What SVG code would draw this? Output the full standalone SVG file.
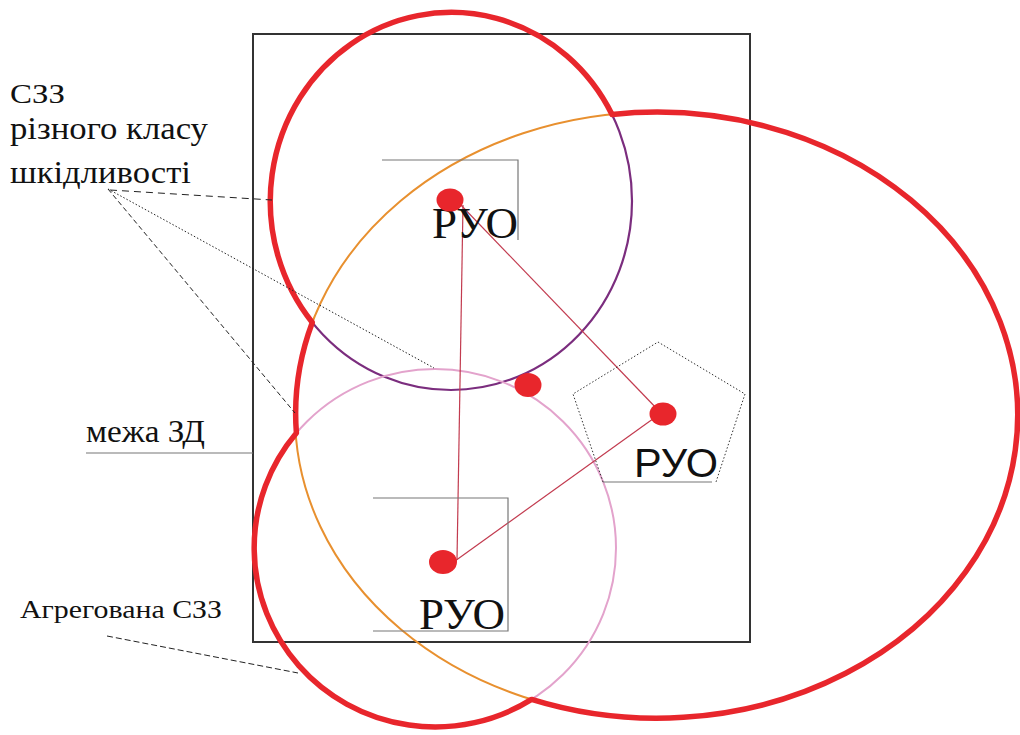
<svg xmlns="http://www.w3.org/2000/svg" width="1020" height="735" viewBox="0 0 1020 735">
<style>
.serif{font-family:"Liberation Serif","Times New Roman",serif;fill:#111}
.sans{font-family:"Liberation Sans",Arial,sans-serif;fill:#111}
.dot{fill:#e8262c}
.gray{stroke:#777;stroke-width:1.2;fill:none}
.link{stroke:#c23b4f;stroke-width:1.2;fill:none}
.lead{stroke:#222;stroke-width:1;fill:none}
</style>
<rect width="1020" height="735" fill="#fff"/>
<g id="zone-boundary">
<rect x="253" y="34" width="497" height="608" fill="none" stroke="#333" stroke-width="2"/>
</g>
<g id="szz-orange">
<ellipse cx="656" cy="415" rx="361" ry="303" fill="none" stroke="#e8902f" stroke-width="2"/>
</g>
<g id="szz-purple">
<ellipse cx="451" cy="201" rx="181" ry="189" fill="none" stroke="#7b2d7e" stroke-width="2.2"/>
</g>
<g id="szz-pink">
<ellipse cx="435" cy="548" rx="181" ry="179" fill="none" stroke="#e3a3cc" stroke-width="2"/>
</g>
<g id="aggregated-szz">
<path d="M312.3,322.5 A181,189 0 1,1 612,114.5 A361,303 0 1,1 531.6,699.4 A181,179 0 0,1 296.4,433 A361,303 0 0,1 312.3,322.5 Z" fill="none" stroke="#e8262c" stroke-width="5.5" stroke-linejoin="round"/>
</g>
<g id="connectors">
<line class="link" x1="463" y1="205" x2="457" y2="560"/>
<line class="link" x1="458" y1="202" x2="660" y2="412"/>
<line class="link" x1="657" y1="416" x2="455" y2="561"/>
<line class="lead" x1="110" y1="190" x2="272" y2="200" stroke-dasharray="7,5"/>
<line class="lead" x1="108" y1="189" x2="434" y2="368" stroke-dasharray="1.5,2"/>
<line class="lead" x1="108" y1="189" x2="295" y2="413" stroke-dasharray="5,3"/>
<line class="lead" x1="107" y1="636" x2="298" y2="673" stroke-dasharray="6,3"/>
<line class="gray" x1="86" y1="453" x2="253" y2="453"/>
</g>
<g id="ruo-top">
<polyline class="gray" points="382,160 518,160 518,240"/>
<text class="serif" x="432" y="238" font-size="44" textLength="86" lengthAdjust="spacingAndGlyphs">РУО</text>
<ellipse class="dot" cx="450" cy="200" rx="13.5" ry="11.5"/>
</g>
<g id="ruo-middle">
<ellipse class="dot" cx="528" cy="385" rx="13.5" ry="12"/>
</g>
<g id="ruo-right">
<polyline points="603,482 573,394 658,342 745,394 716,482" fill="none" stroke="#333" stroke-width="1" stroke-dasharray="1.5,2"/>
<line class="gray" x1="603" y1="482" x2="712" y2="482"/>
<text class="sans" x="634" y="477" font-size="41" textLength="84" lengthAdjust="spacingAndGlyphs">РУО</text>
<ellipse class="dot" cx="663" cy="414" rx="13.5" ry="11.5"/>
</g>
<g id="ruo-bottom">
<polyline class="gray" points="373,498 508,498 508,631 373,631"/>
<text class="serif" x="419" y="629" font-size="44" textLength="86" lengthAdjust="spacingAndGlyphs">РУО</text>
<ellipse class="dot" cx="443" cy="562" rx="14" ry="12"/>
</g>
<g id="label-szz">
<text class="serif" x="10" y="103" font-size="28" textLength="55" lengthAdjust="spacingAndGlyphs">СЗЗ</text>
<text class="serif" x="10" y="139" font-size="31" textLength="198" lengthAdjust="spacingAndGlyphs">різного класу</text>
<text class="serif" x="10" y="183" font-size="31" textLength="181" lengthAdjust="spacingAndGlyphs">шкідливості</text>
</g>
<g id="label-boundary">
<text class="serif" x="86" y="442" font-size="31" textLength="119" lengthAdjust="spacingAndGlyphs">межа ЗД</text>
</g>
<g id="label-aggregated">
<text class="serif" x="20" y="618" font-size="25" textLength="202" lengthAdjust="spacingAndGlyphs">Агрегована СЗЗ</text>
</g>
</svg>
